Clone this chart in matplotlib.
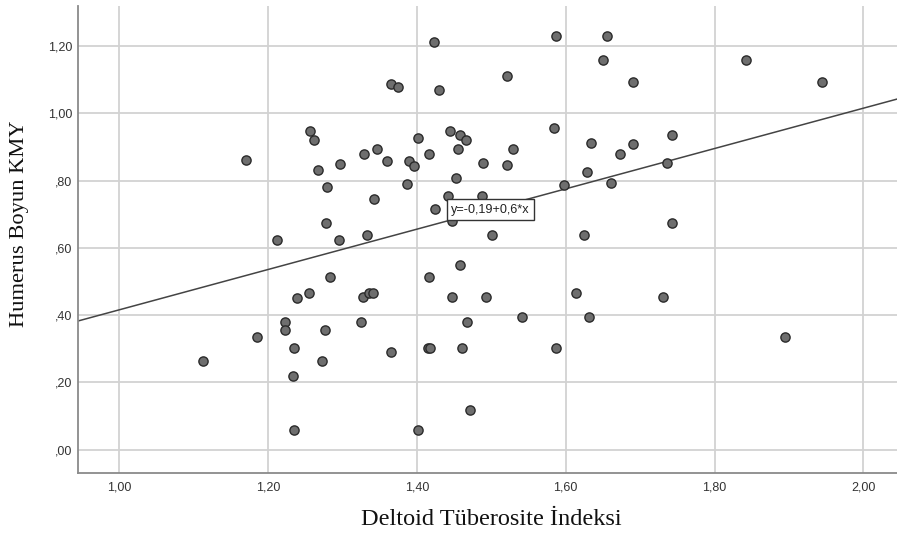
import matplotlib
matplotlib.use("Agg")
import matplotlib.pyplot as plt
import numpy as np

# ---- data ----
x_vals = [1.423, 1.365, 1.375, 1.430, 1.2565, 1.2615, 1.1706, 1.2668, 1.2972, 1.3286,
          1.3465, 1.3604, 1.390, 1.3966, 1.4011, 1.416, 1.387, 1.2793, 1.342, 1.424,
          1.2776, 1.2122, 1.2959, 1.3326, 1.4445, 1.4423, 1.5873, 1.6558, 1.6496, 1.8425,
          1.5215, 1.6903, 1.9437, 1.458, 1.4664, 1.4557, 1.5287, 1.5845, 1.6344, 1.6903,
          1.7427, 1.4884, 1.5206, 1.6724, 1.6285, 1.7364, 1.4526, 1.5977, 1.6603, 1.4875,
          1.4472, 1.7427, 1.5005, 1.6245, 1.458, 1.2838, 1.416, 1.2548, 1.2387, 1.3277,
          1.3362, 1.3411, 1.4477, 1.2234, 1.2234, 1.2767, 1.3254, 1.1853, 1.2354, 1.3657,
          1.415, 1.418, 1.1128, 1.2726, 1.2337, 1.2346, 1.4011, 1.4929, 1.6142, 1.731,
          1.467, 1.5416, 1.6316, 1.4607, 1.5869, 1.894, 1.471]
y_vals = [1.211, 1.086, 1.077, 1.069, 0.947, 0.919, 0.862, 0.832, 0.848, 0.880,
          0.894, 0.859, 0.859, 0.842, 0.926, 0.878, 0.791, 0.782, 0.744, 0.716,
          0.675, 0.623, 0.623, 0.637, 0.947, 0.754, 1.230, 1.230, 1.157, 1.157,
          1.111, 1.092, 1.092, 0.935, 0.920, 0.894, 0.894, 0.956, 0.911, 0.909,
          0.935, 0.851, 0.847, 0.878, 0.825, 0.853, 0.808, 0.786, 0.793, 0.755,
          0.680, 0.675, 0.637, 0.637, 0.549, 0.513, 0.513, 0.465, 0.451, 0.453,
          0.465, 0.465, 0.453, 0.380, 0.356, 0.356, 0.380, 0.334, 0.301, 0.289,
          0.301, 0.301, 0.264, 0.264, 0.219, 0.058, 0.058, 0.453, 0.465, 0.453,
          0.380, 0.393, 0.393, 0.301, 0.301, 0.334, 0.119]

fit_intercept = -0.184
fit_slope = 0.5995
fit_label = "y=-0,19+0,6*x"

x_ticks = [1.00, 1.20, 1.40, 1.60, 1.80, 2.00]
x_tick_labels = ["1,00", "1,20", "1,40", "1,60", "1,80", "2,00"]
y_ticks = [0.00, 0.20, 0.40, 0.60, 0.80, 1.00, 1.20]
y_tick_labels = [",00", ",20", ",40", ",60", ",80", "1,00", "1,20"]

x_title = "Deltoid Tüberosite İndeksi"
y_title = "Humerus Boyun KMY"

# ---- figure ----
fig = plt.figure(figsize=(8.97, 5.39), dpi=100)
ax = fig.add_axes([77.5 / 897, 66 / 539, (897 - 77.5) / 897, 467 / 539])

xmin, xmax = 0.9443, 2.045
ymin, ymax = -0.0692, 1.3186
ax.set_xlim(xmin, xmax)
ax.set_ylim(ymin, ymax)

ax.set_xticks(x_ticks)
ax.set_xticklabels(x_tick_labels, fontfamily="Liberation Sans", fontsize=9, color="#333333")
ax.set_yticks(y_ticks)
ax.set_yticklabels(y_tick_labels, fontfamily="Liberation Sans", fontsize=9, color="#333333")
ax.tick_params(axis="x", length=0, pad=6)
ax.tick_params(axis="y", length=0, pad=4)

ax.grid(True, color="#d2d2d2", linewidth=1.3, zorder=0)
ax.set_axisbelow(True)
for s in ["top", "right"]:
    ax.spines[s].set_visible(False)
for s in ["left", "bottom"]:
    ax.spines[s].set_color("#8a8a8a")
    ax.spines[s].set_linewidth(1.3)

# regression line
lx = np.array([xmin, xmax])
ax.plot(lx, fit_intercept + fit_slope * lx, color="#444444", linewidth=1.1, zorder=2,
        clip_on=True)

# points
ax.scatter(x_vals, y_vals, s=44, facecolor="#6e6e6e", edgecolor="#2a2a2a",
           linewidths=1.0, zorder=3)

# equation label box
ax.text(1.4462, 0.7138, fit_label, fontfamily="Liberation Sans", fontsize=9.1,
        color="#222222", ha="left", va="center", zorder=5,
        bbox=dict(boxstyle="square,pad=0.32", facecolor="white", edgecolor="#333333",
                  linewidth=1.0))

ax.set_xlabel(x_title, fontfamily="Liberation Serif", fontsize=17.5, color="#111111")
ax.xaxis.label.set_va("center")
ax.xaxis.set_label_coords(0.5046, -0.1006)
ax.set_ylabel(y_title, fontfamily="Liberation Serif", fontsize=16.2, color="#111111")
ax.yaxis.label.set_va("center")
ax.yaxis.set_label_coords(-0.0707, 0.534)

fig.savefig("out.png", dpi=100)
